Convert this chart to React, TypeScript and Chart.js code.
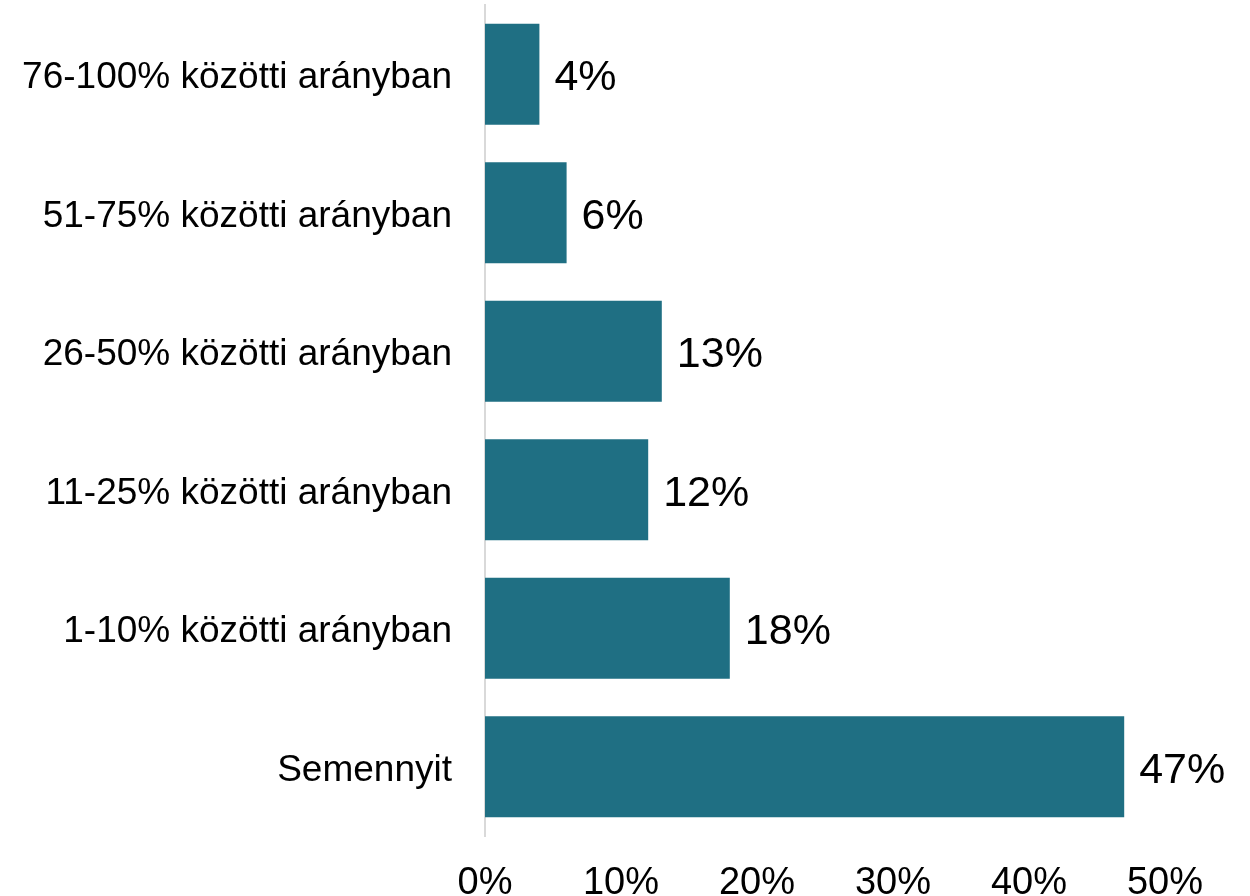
import React, { useEffect, useRef } from "react";
import { Chart, registerables } from "chart.js";

Chart.register(...registerables);

const categories = [
  "76-100% közötti arányban",
  "51-75% közötti arányban",
  "26-50% közötti arányban",
  "11-25% közötti arányban",
  "1-10% közötti arányban",
  "Semennyit",
];
const values = [4, 6, 13, 12, 18, 47];
const xTicks = [0, 10, 20, 30, 40, 50];

const barColor = "#1F6F83";

const valueLabelPlugin = {
  id: "valueLabels",
  afterDatasetsDraw(chart: any) {
    const ctx = chart.ctx;
    const meta = chart.getDatasetMeta(0);
    ctx.save();
    ctx.font = "43px 'Liberation Sans', Arial, sans-serif";
    ctx.fillStyle = "#000000";
    ctx.textAlign = "left";
    ctx.textBaseline = "middle";
    meta.data.forEach((bar: any, i: number) => {
      ctx.fillText(values[i] + "%", bar.x + 15, bar.y + 4);
    });
    ctx.restore();
  },
};

export default function App() {
  const ref = useRef<HTMLCanvasElement>(null);
  useEffect(() => {
    if (!ref.current) return;
    const chart = new Chart(ref.current, {
      type: "bar",
      data: {
        labels: categories,
        datasets: [
          {
            data: values,
            backgroundColor: barColor,
            barPercentage: 0.73,
            categoryPercentage: 1,
          },
        ],
      },
      options: {
        indexAxis: "y",
        animation: false,
        responsive: false,
        maintainAspectRatio: false,
        layout: { padding: { top: 5, right: 85, left: 0, bottom: 0 } },
        plugins: { legend: { display: false }, tooltip: { enabled: false } },
        scales: {
          x: {
            min: 0,
            max: 50,
            afterBuildTicks: (scale: any) => {
              scale.ticks = xTicks.map((v) => ({ value: v }));
            },
            afterFit: (scale: any) => {
              scale.height = 60;
              scale.paddingLeft = 0;
              scale.paddingRight = 0;
            },
            grid: { display: false, drawTicks: false },
            border: { display: false },
            ticks: {
              padding: 25,
              color: "#000000",
              font: { family: "'Liberation Sans Narrow', 'Liberation Sans', Arial, sans-serif", size: 38 },
              callback: (v: any) => v + "%",
              maxRotation: 0,
            },
          },
          y: {
            afterFit: (scale: any) => {
              scale.width = 485;
              scale.paddingTop = 0;
              scale.paddingBottom = 0;
            },
            grid: { display: false, drawTicks: false },
            border: { display: true, color: "#d9d9d9", width: 2 },
            ticks: {
              padding: 33,
              labelOffset: 4,
              color: "#000000",
              font: { family: "'Liberation Sans', Arial, sans-serif", size: 37 },
            },
          },
        },
      },
      plugins: [valueLabelPlugin],
    });
    return () => chart.destroy();
  }, []);
  return (
    <div style={{ position: "fixed", left: 0, top: 0, width: 1250, height: 896, background: "#fff" }}>
      <canvas ref={ref} width={1250} height={896} style={{ width: 1250, height: 896 }} />
    </div>
  );
}
